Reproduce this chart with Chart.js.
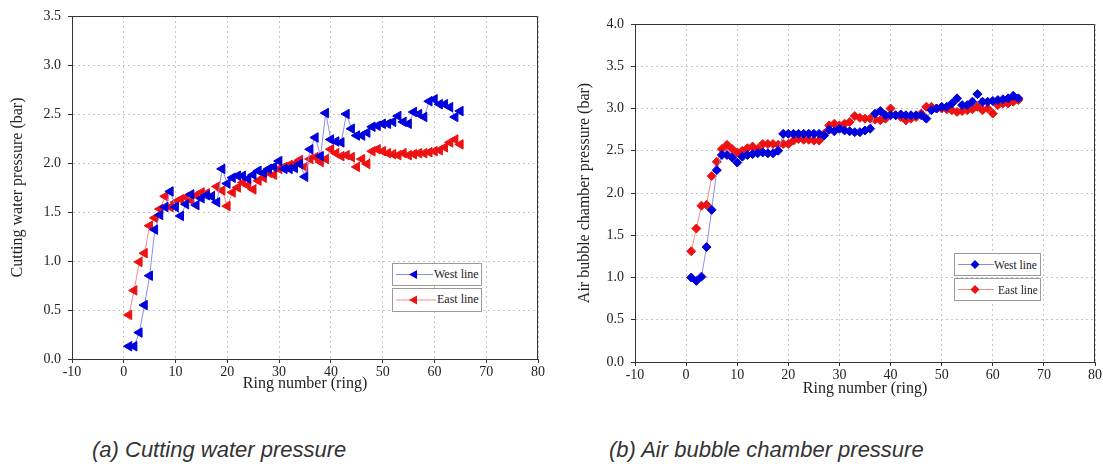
<!DOCTYPE html>
<html lang="en">
<head>
  <meta charset="UTF-8" />
  <title>Cutting water pressure / Air bubble chamber pressure</title>
  <script src="https://cdn.jsdelivr.net/npm/chart.js"></script>
  <style>
    body {
      margin: 0;
      background: #fff;
      width: 1103px;
      height: 475px;
      position: relative;
      overflow: hidden;
      font-family: "Liberation Serif", "Times New Roman", serif;
    }
    canvas { position: absolute; top: 0; }
    #chartA { left: 0; }
    #chartB { left: 568px; }
    .legend {
      position: absolute;
      border: 1px solid #9a9a9a;
      background: #fff;
      box-sizing: border-box;
      font-size: 12px;
      color: #222;
    }
    .legend svg { position: absolute; left: 0; top: 0; }
    .legend span { position: absolute; top: 50%; transform: translateY(-52%); white-space: nowrap; }
    .caption {
      position: absolute;
      top: 437px;
      font-family: "Liberation Sans", Arial, sans-serif;
      font-style: italic;
      font-size: 22px;
      color: #333;
      white-space: nowrap;
    }
  </style>
</head>
<body>
  <canvas id="chartA" width="551" height="400"></canvas>
  <canvas id="chartB" width="535" height="400"></canvas>

  <!-- legends, drawn as plain boxes like the original figure -->
  <div class="legend" style="left:392px; top:263px; width:90px; height:23px;">
    <svg width="42" height="21"><line x1="3" y1="10.5" x2="40" y2="10.5" stroke="#8c8ce6" stroke-width="1"/><polygon points="16,10.5 24,6 24,15" fill="#0000dd"/></svg>
    <span style="left:41px;">West line</span>
  </div>
  <div class="legend" style="left:392px; top:288px; width:90px; height:24px;">
    <svg width="44" height="22"><line x1="3" y1="11" x2="43" y2="11" stroke="#f08c8c" stroke-width="1"/><polygon points="16,11 24,6.5 24,15.5" fill="#ee1111"/></svg>
    <span style="left:44px;">East line</span>
  </div>
  <div class="legend" style="left:954px; top:253px; width:87px; height:23px;">
    <svg width="40" height="21"><line x1="3" y1="10.5" x2="39" y2="10.5" stroke="#8c8ce6" stroke-width="1"/><polygon points="20,6 24.5,10.5 20,15 15.5,10.5" fill="#0000dd"/></svg>
    <span style="left:39px; font-size:11.5px;">West line</span>
  </div>
  <div class="legend" style="left:954px; top:278px; width:87px; height:23px;">
    <svg width="40" height="21"><line x1="3" y1="10.5" x2="39" y2="10.5" stroke="#f08c8c" stroke-width="1"/><polygon points="20,6 24.5,10.5 20,15 15.5,10.5" fill="#ee1111"/></svg>
    <span style="left:43px; font-size:11.5px;">East line</span>
  </div>

  <div class="caption" style="left:92px;">(a) Cutting water pressure</div>
  <div class="caption" style="left:609px;">(b) Air bubble chamber pressure</div>

  <script>
    // ring numbers (x values), same for every series
    const rings = [
      1, 2, 3, 4, 5, 6, 7, 8, 9, 10, 11, 12, 13, 14, 15, 16, 17, 18, 19, 20,
      21, 22, 23, 24, 25, 26, 27, 28, 29, 30, 31, 32, 33, 34, 35, 36, 37, 38, 39, 40,
      41, 42, 43, 44, 45, 46, 47, 48, 49, 50, 51, 52, 53, 54, 55, 56, 57, 58, 59, 60,
      61, 62, 63, 64, 65
    ];

    // (a) cutting water pressure, bar
    const cuttingWest = [
      0.13, 0.13, 0.27, 0.55, 0.85, 1.32, 1.47, 1.55, 1.71, 1.55,
      1.46, 1.58, 1.68, 1.57, 1.64, 1.67, 1.66, 1.60, 1.94, 1.79,
      1.85, 1.87, 1.87, 1.84, 1.88, 1.92, 1.90, 1.94, 1.96, 2.02,
      1.94, 1.94, 1.95, 1.99, 1.86, 2.14, 2.26, 2.07, 2.51, 2.24,
      2.22, 2.21, 2.50, 2.35, 2.28, 2.28, 2.31, 2.37, 2.38, 2.40,
      2.40, 2.42, 2.48, 2.42, 2.40, 2.52, 2.50, 2.47, 2.63, 2.65,
      2.60, 2.60, 2.57, 2.47, 2.53
    ];
    const cuttingEast = [
      0.45, 0.70, 0.99, 1.08, 1.36, 1.44, 1.53, 1.66, 1.55, 1.60,
      1.63, 1.65, 1.62, 1.67, 1.70, 1.69, 1.66, 1.76, 1.72, 1.56,
      1.70, 1.75, 1.80, 1.77, 1.73, 1.82, 1.85, 1.90, 1.88, 1.94,
      1.96, 1.98, 1.99, 2.03, 1.96, 2.04, 2.06, 2.01, 2.04, 2.14,
      2.10, 2.07, 2.08, 2.06, 1.96, 2.04, 1.99, 2.12, 2.14, 2.12,
      2.10, 2.09, 2.08, 2.10, 2.08, 2.09, 2.10, 2.10, 2.11, 2.12,
      2.13, 2.16, 2.21, 2.24, 2.19
    ];

    // (b) air bubble chamber pressure, bar
    const bubbleWest = [
      1.00, 0.96, 1.01, 1.36, 1.80, 2.27, 2.45, 2.45, 2.42, 2.36,
      2.43, 2.45, 2.46, 2.47, 2.48, 2.47, 2.47, 2.50, 2.70, 2.70,
      2.70, 2.70, 2.70, 2.70, 2.70, 2.70, 2.68, 2.75, 2.73, 2.76,
      2.74, 2.73, 2.72, 2.72, 2.74, 2.76, 2.94, 2.97, 2.92, 2.92,
      2.92, 2.93, 2.92, 2.92, 2.92, 2.92, 2.88, 2.98, 3.00, 3.02,
      3.02, 3.06, 3.12, 3.04, 3.04, 3.08, 3.17, 3.08, 3.08, 3.09,
      3.10, 3.11, 3.12, 3.15, 3.12
    ];
    const bubbleEast = [
      1.31, 1.58, 1.85, 1.86, 2.20, 2.37, 2.52, 2.57, 2.52, 2.48,
      2.50, 2.53, 2.55, 2.52, 2.58, 2.58, 2.58, 2.57, 2.58, 2.58,
      2.62, 2.64, 2.63, 2.63, 2.62, 2.62, 2.70, 2.80, 2.82, 2.80,
      2.82, 2.84, 2.91, 2.89, 2.88, 2.88, 2.87, 2.86, 2.88, 3.00,
      2.92, 2.90, 2.86, 2.88, 2.90, 2.94, 3.02, 3.02, 3.00, 3.00,
      2.99, 2.98, 2.96, 2.97, 2.98, 2.99, 3.02, 2.98, 3.00, 2.94,
      3.04, 3.06, 3.06, 3.08, 3.10
    ];

    const xRange = [-10, 80];
    const xStep = 10;
    const yRangeA = [0, 3.5];
    const yRangeB = [0, 4.0];
    const yStep = 0.5;

    const tickFont = { family: "'Liberation Serif', 'Times New Roman', serif", size: 14 };
    const titleFont = { family: "'Liberation Serif', 'Times New Roman', serif", size: 16 };

    // top + right frame lines like the original plot box
    const framePlugin = {
      id: 'frame',
      afterDraw(chart) {
        const { ctx, chartArea: a } = chart;
        ctx.save();
        ctx.strokeStyle = '#333';
        ctx.lineWidth = 1;
        ctx.beginPath();
        ctx.moveTo(Math.round(a.left) + 0.5, Math.round(a.top) + 0.5);
        ctx.lineTo(Math.round(a.right) - 0.5, Math.round(a.top) + 0.5);
        ctx.lineTo(Math.round(a.right) - 0.5, Math.round(a.bottom));
        ctx.stroke();
        ctx.restore();
      }
    };

    function series(label, values, line, fill, style, rotation, radius) {
      return {
        label: label,
        data: rings.map((r, i) => ({ x: r, y: values[i] })),
        borderColor: line,
        borderWidth: 1,
        backgroundColor: fill,
        pointBackgroundColor: fill,
        pointBorderColor: fill,
        pointBorderWidth: 1,
        pointStyle: style,
        pointRotation: rotation,
        pointRadius: radius,
        pointHoverRadius: radius,
        tension: 0,
        fill: false
      };
    }

    function makeChart(id, datasets, yRange, yTitle, dims) {
      const ctx = document.getElementById(id).getContext('2d');
      return new Chart(ctx, {
        type: 'line',
        data: { datasets: datasets },
        options: {
          responsive: false,
          animation: false,
          devicePixelRatio: 1,
          layout: { padding: dims.padding },
          plugins: {
            legend: { display: false },
            tooltip: { enabled: false }
          },
          scales: {
            x: {
              type: 'linear',
              min: xRange[0],
              max: xRange[1],
              ticks: { stepSize: xStep, font: tickFont, color: '#222', padding: 1, maxRotation: 0 },
              grid: { color: '#c4c4c4', lineWidth: 1, tickColor: '#333', tickLength: 4, tickBorderDash: [] },
              border: { color: '#333', width: 1, dash: [2, 3] },
              title: { display: true, text: 'Ring number (ring)', font: titleFont, color: '#222', padding: { top: 0, bottom: 0 } },
              afterFit: s => { s.height = dims.xHeight; }
            },
            y: {
              min: yRange[0],
              max: yRange[1],
              ticks: { stepSize: yStep, font: tickFont, color: '#222', padding: 7, callback: v => v.toFixed(1) },
              grid: { color: '#c4c4c4', lineWidth: 1, tickColor: '#333', tickLength: 4, tickBorderDash: [] },
              border: { color: '#333', width: 1, dash: [2, 3] },
              title: { display: true, text: yTitle, font: titleFont, color: '#222', padding: { top: dims.yTitlePad, bottom: 0 } },
              afterFit: s => { s.width = dims.yWidth; }
            }
          }
        },
        plugins: [framePlugin]
      });
    }

    makeChart('chartA', [
      series('West line', cuttingWest, '#8c8ce6', '#0000dd', 'triangle', 270, 5.5),
      series('East line', cuttingEast, '#f08c8c', '#ee1111', 'triangle', 270, 5.5)
    ], yRangeA, 'Cutting water pressure (bar)', {
      padding: { left: 0, top: 16, right: 13, bottom: 7 },
      xHeight: 34, yWidth: 72, yTitlePad: 8
    });

    makeChart('chartB', [
      series('West line', bubbleWest, '#8c8ce6', '#0000dd', 'rectRot', 0, 4.5),
      series('East line', bubbleEast, '#f08c8c', '#ee1111', 'rectRot', 0, 4.5)
    ], yRangeB, 'Air bubble chamber pressure (bar)', {
      padding: { left: 0, top: 24, right: 7, bottom: 2 },
      xHeight: 36, yWidth: 67, yTitlePad: 7
    });
  </script>
</body>
</html>
